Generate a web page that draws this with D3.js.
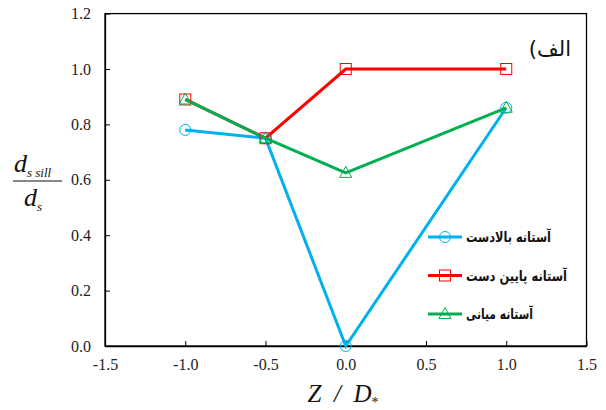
<!DOCTYPE html>
<html><head><meta charset="utf-8">
<script src="https://cdn.jsdelivr.net/npm/d3@7"></script>
<style>body{margin:0;background:#fff}</style>
</head><body>
<svg id="c" width="606" height="410"></svg>
<script>
const xVals = [-1.0, -0.5, 0.0, 1.0];
const upstream = [0.78, 0.75, 0.0, 0.86];
const downstream = [0.89, 0.75, 1.0, 1.0];
const middle = [0.89, 0.75, 0.625, 0.86];
const seriesNames = ["آستانه بالادست", "آستانه پایین دست", "آستانه میانی"];
const xTicks = [-1.5, -1.0, -0.5, 0.0, 0.5, 1.0, 1.5];
const yTicks = [0.0, 0.2, 0.4, 0.6, 0.8, 1.0, 1.2];

const svg = d3.select("#c");
const L = 105, R = 586.5, T = 13.6, B = 346;
const x = d3.scaleLinear().domain([-1.5, 1.5]).range([L, R]);
const y = d3.scaleLinear().domain([0, 1.2]).range([B, T]);
const serif = "'Liberation Serif', 'Times New Roman', serif";

const xa = svg.append("g").attr("transform", `translate(0,${B})`)
  .call(d3.axisBottom(x).tickValues(xTicks).tickFormat(d3.format(".1f")).tickSizeInner(-5).tickSizeOuter(0).tickPadding(13));
const ya = svg.append("g").attr("transform", `translate(${L},0)`)
  .call(d3.axisLeft(y).tickValues(yTicks).tickFormat(d3.format(".1f")).tickSizeInner(-5).tickSizeOuter(0).tickPadding(14));
[xa, ya].forEach(g => {
  g.selectAll("text").attr("font-family", serif).attr("font-size", 16).attr("fill", "#222");
  g.selectAll("line").attr("stroke", "#000");
  g.select(".domain").attr("stroke", "#000").attr("stroke-width", 1.3);
  g.selectAll("text").text(d => d3.format(".1f")(d).replace("−", "-"));
});
svg.append("rect").attr("x", L).attr("y", T).attr("width", R - L).attr("height", B - T)
  .attr("fill", "none").attr("stroke", "#000").attr("stroke-width", 1.3);

const series = [
  {name: seriesNames[0], vals: upstream, color: "#00B0F0", marker: "circle"},
  {name: seriesNames[1], vals: downstream, color: "#FF0000", marker: "square"},
  {name: seriesNames[2], vals: middle, color: "#00B050", marker: "triangle"}
];
const line = d3.line().x(d => x(d[0])).y(d => y(d[1]));

function drawMarker(g, type, cx, cy, color) {
  if (type === "circle") {
    g.append("circle").attr("cx", cx).attr("cy", cy).attr("r", 5.5)
      .attr("fill", "none").attr("stroke", color).attr("stroke-width", 1);
  } else if (type === "square") {
    g.append("rect").attr("x", cx - 5.5).attr("y", cy - 5.5).attr("width", 11).attr("height", 11)
      .attr("fill", "none").attr("stroke", color).attr("stroke-width", 1);
  } else {
    g.append("path").attr("d", `M${cx},${cy - 6.5}L${cx + 6},${cy + 4.5}L${cx - 6},${cy + 4.5}Z`)
      .attr("fill", "none").attr("stroke", color).attr("stroke-width", 1);
  }
}

series.forEach(s => {
  const pts = xVals.map((v, i) => [v, s.vals[i]]);
  svg.append("path").attr("d", line(pts)).attr("fill", "none")
    .attr("stroke", s.color).attr("stroke-width", 3);
});
series.forEach(s => {
  const g = svg.append("g");
  xVals.forEach((v, i) => drawMarker(g, s.marker, x(v), y(s.vals[i]), s.color));
});

// legend
const legY = [237, 275.5, 314];
const legW = [85, 101, 67];
series.forEach((s, i) => {
  const g = svg.append("g");
  g.append("line").attr("x1", 428).attr("x2", 462).attr("y1", legY[i]).attr("y2", legY[i])
    .attr("stroke", s.color).attr("stroke-width", 3);
  drawMarker(g, s.marker, 445, legY[i], s.color);
  g.append("text").attr("x", 466 + legW[i]).attr("y", legY[i] + 5).attr("text-anchor", "start")
    .attr("direction", "rtl")
    .attr("textLength", legW[i]).attr("lengthAdjust", "spacingAndGlyphs")
    .attr("font-family", "'DejaVu Sans', sans-serif").attr("font-weight", "bold")
    .attr("font-size", 14.5).attr("fill", "#111").text(s.name);
});

// panel label
svg.append("text").attr("x", 571).attr("y", 56).attr("direction", "rtl").attr("text-anchor", "start")
  .attr("font-family", "'DejaVu Sans', sans-serif").attr("font-size", 21).attr("fill", "#111").text("الف)");

// x label
const xl = svg.append("text").attr("x", 343).attr("y", 402).attr("text-anchor", "middle")
  .attr("font-family", serif).attr("font-style", "italic").attr("font-size", 25).attr("fill", "#111")
  .attr("xml:space", "preserve");
xl.append("tspan").text("Z  /  D");
xl.append("tspan").attr("font-size", 14).attr("dy", 5).attr("font-style", "normal").text("*");

// y label fraction
const yl = svg.append("text").attr("x", 14).attr("y", 172)
  .attr("font-family", serif).attr("font-style", "italic").attr("font-size", 26).attr("fill", "#111");
yl.append("tspan").text("d");
yl.append("tspan").attr("font-size", 13).attr("dy", 5).text("s sill");
svg.append("line").attr("x1", 13).attr("x2", 62).attr("y1", 181).attr("y2", 181)
  .attr("stroke", "#111").attr("stroke-width", 1);
const yl2 = svg.append("text").attr("x", 24).attr("y", 206)
  .attr("font-family", serif).attr("font-style", "italic").attr("font-size", 26).attr("fill", "#111");
yl2.append("tspan").text("d");
yl2.append("tspan").attr("font-size", 13).attr("dy", 5).text("s");
</script>
</body></html>
